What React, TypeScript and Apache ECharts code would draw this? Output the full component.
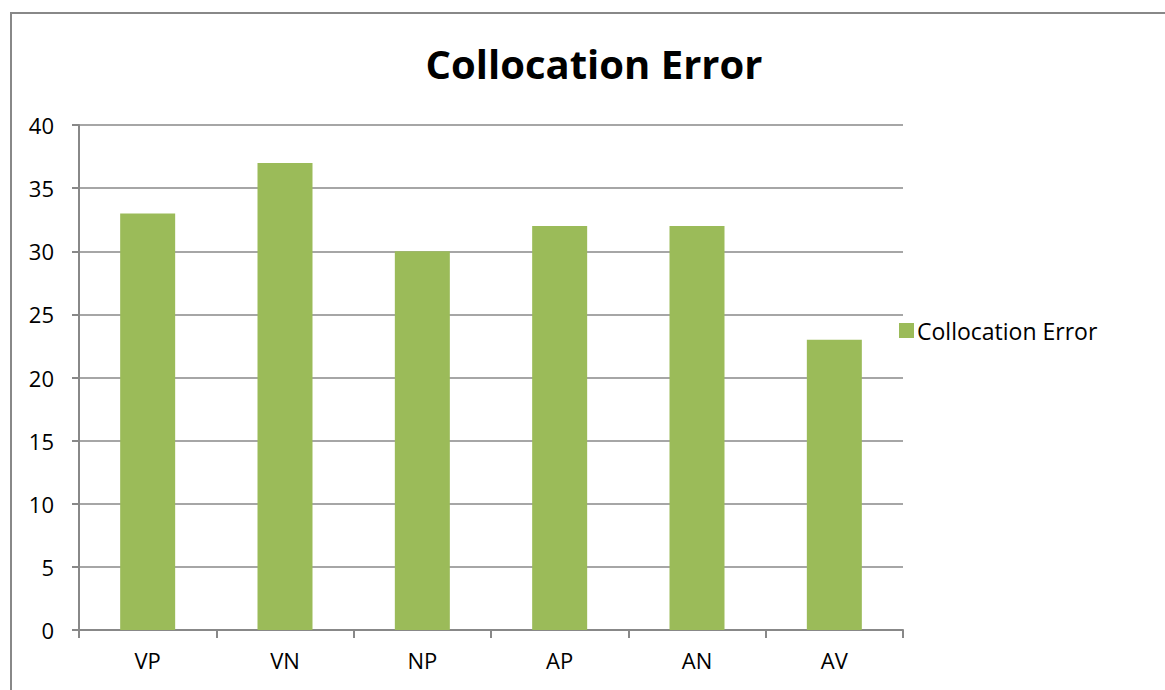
import React, { useEffect, useRef } from "react";
import * as echarts from "echarts";

const categories = ["VP", "VN", "NP", "AP", "AN", "AV"];
const values = [33, 37, 30, 32, 32, 23];
const seriesName = "Collocation Error";
const titleText = "Collocation Error";

export default function App() {
  const ref = useRef<HTMLDivElement>(null);
  useEffect(() => {
    document.body.style.margin = "0";
    const chart = echarts.init(ref.current!, null, { renderer: "svg" });
    const font = "'Open Sans', 'Liberation Sans', sans-serif";
    chart.setOption({
      animation: false,
      backgroundColor: "#ffffff",
      title: {
        text: titleText,
        left: 589,
        textAlign: "center",
        top: 38,
        textStyle: { fontFamily: font, fontSize: 40, fontWeight: "bold", color: "#000" },
      },
      graphic: [
        {
          type: "rect",
          shape: { x: 11, y: 13, width: 1300, height: 800 },
          style: { fill: "none", stroke: "#888888", lineWidth: 2 },
          silent: true,
        },
      ],
      legend: {
        show: true,
        left: 894,
        top: 314,
        orient: "vertical",
        itemWidth: 15,
        itemHeight: 15,
        itemGap: 6,
        icon: "rect",
        textStyle: { fontFamily: font, fontSize: 23, color: "#000", padding: [0, 0, 0, -2] },
        data: [seriesName],
      },
      grid: { left: 79, right: 262, top: 125, bottom: 60, containLabel: false },
      xAxis: {
        type: "category",
        data: categories,
        axisLine: { show: true, lineStyle: { color: "#888888", width: 2 } },
        axisTick: { show: true, length: 8, lineStyle: { color: "#888888", width: 2 }, alignWithLabel: false },
        axisLabel: { fontFamily: font, fontSize: 22, color: "#000", margin: 19 },
      },
      yAxis: {
        type: "value",
        min: 0,
        max: 40,
        interval: 5,
        axisLine: { show: true, lineStyle: { color: "#888888", width: 2 } },
        axisTick: { show: true, length: 7, lineStyle: { color: "#888888", width: 2 } },
        axisLabel: { fontFamily: font, fontSize: 22, color: "#000", margin: 25 },
        splitLine: { show: true, lineStyle: { color: "#888888", width: 1.5 } },
      },
      series: [
        {
          name: seriesName,
          type: "bar",
          data: values,
          barWidth: 55,
          itemStyle: { color: "#9BBB59" },
        },
      ],
    });
    return () => chart.dispose();
  }, []);
  return <div ref={ref} style={{ width: 1165, height: 690 }} />;
}
